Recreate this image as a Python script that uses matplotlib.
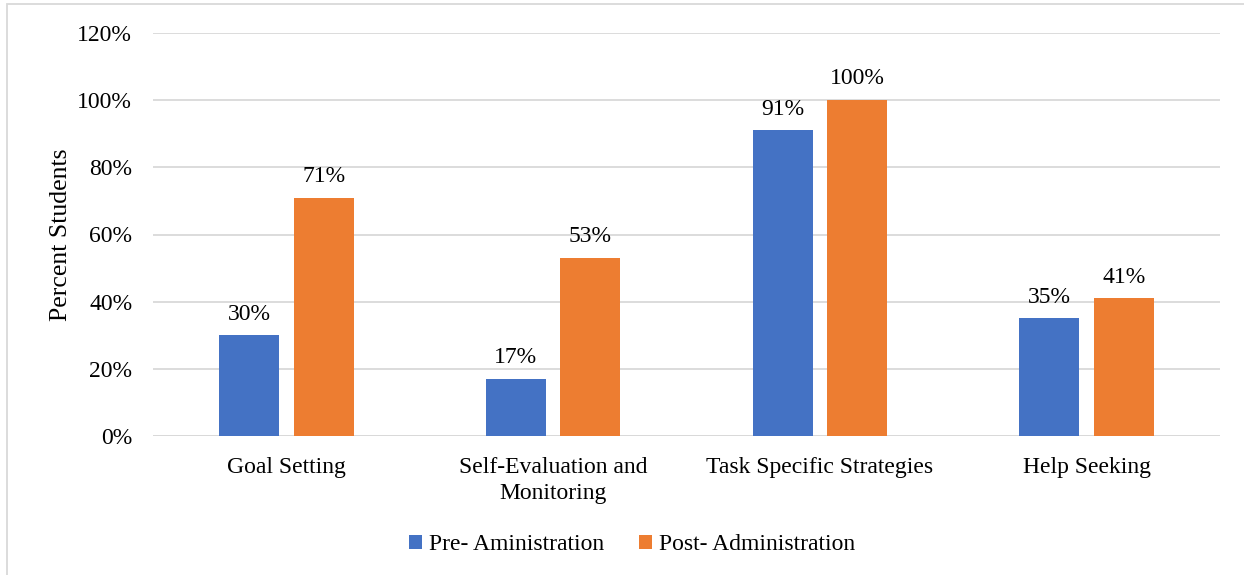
import matplotlib.pyplot as plt
import numpy as np

categories = ["Goal Setting", "Self-Evaluation and\nMonitoring",
              "Task Specific Strategies", "Help Seeking"]
pre_admin = [30, 17, 91, 35]
post_admin = [71, 53, 100, 41]
series_names = ["Pre- Aministration", "Post- Administration"]

plt.rcParams['font.family'] = ['Liberation Serif', 'DejaVu Serif']
fs = 17

fig = plt.figure(figsize=(12.44, 5.75), dpi=100)
ax = fig.add_axes([153/1244, 1 - 436/575, (1220-153)/1244, (436-33)/575])

x = np.arange(len(categories))
w = 0.225
b1 = ax.bar(x - 0.14, pre_admin, w, color='#4472C4', label=series_names[0], zorder=3)
b2 = ax.bar(x + 0.14, post_admin, w, color='#ED7D31', label=series_names[1], zorder=3)

for bars, vals in ((b1, pre_admin), (b2, post_admin)):
    for r, v in zip(bars, vals):
        ax.text(r.get_x() + r.get_width()/2, v + 3.2, f"{v}%", ha='center',
                va='bottom', fontsize=fs, color='#000000')

ax.set_xlim(-0.5, len(categories) - 0.5)
ax.set_ylim(0, 120)
ax.set_yticks(range(0, 121, 20))
ax.set_yticklabels([f"{t}%" for t in range(0, 121, 20)], fontsize=fs)
ax.set_xticks(x)
ax.set_xticklabels(categories, fontsize=fs, linespacing=1.3)
ax.tick_params(length=0)
ax.tick_params(axis='x', pad=15)
ax.tick_params(axis='y', pad=15)
ax.yaxis.grid(True, color='#D9D9D9', lw=1.3, zorder=0)
for s in ax.spines.values():
    s.set_visible(False)
ax.axhline(0, color='#D9D9D9', lw=1.3, zorder=2)

ax.set_ylabel("Percent Students", fontsize=18.5)
ax.yaxis.set_label_coords(-0.076, 0.5)

leg = fig.legend(loc='center', bbox_to_anchor=(0.508, 1 - 545/575), ncol=2,
                 frameon=False, fontsize=fs, handlelength=0.55, handleheight=0.55,
                 handletextpad=0.3, columnspacing=1.5)

# chart frame
fig.patches.append(plt.Rectangle((7/1244, -0.01), 1.1, 1 - 3.5/575 + 0.01,
                                 transform=fig.transFigure, fill=False,
                                 edgecolor='#D9D9D9', lw=1.3))

fig.savefig("out.png", dpi=100)
